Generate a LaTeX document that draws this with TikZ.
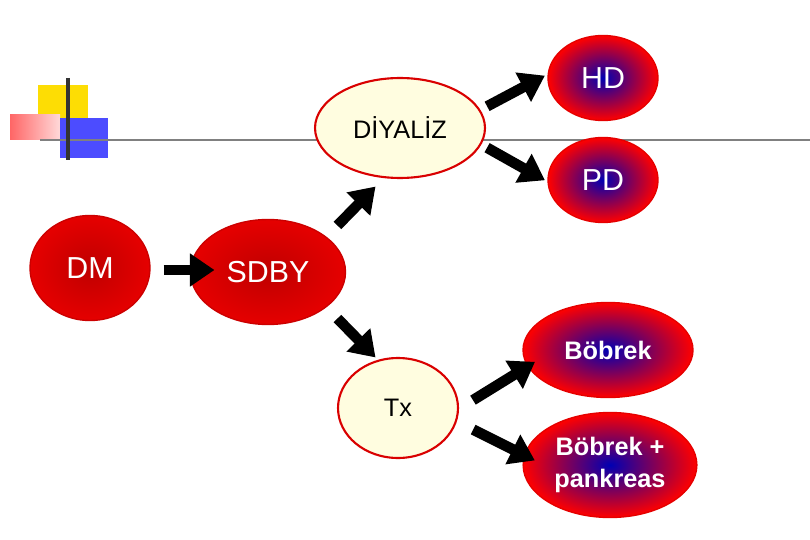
\documentclass[tikz,border=0pt]{standalone}
\usepackage{fontspec}
\setmainfont{Liberation Sans}
\usetikzlibrary{arrows.meta, shapes.geometric, positioning}

\tikzset{
  redball/.style={ellipse, draw=red!80!black, line width=0.8pt, inner color=red!75!black, outer color=red!90!black, text=white, font=\LARGE},
  blueball/.style={ellipse, draw=red!90!black, line width=0.8pt, inner color=blue!70!black, outer color=red, text=white, font=\Large\bfseries},
  paleball/.style={ellipse, draw=red!85!black, line width=1.2pt, fill=yellow!12, font=\Large},
  thick arrow/.style={-{Triangle[length=14pt,width=18pt]}, line width=6pt, black, shorten >=2pt, shorten <=2pt}
}

\begin{document}
\begin{tikzpicture}[x=0.02cm, y=-0.02cm]
  \useasboundingbox (0,0) rectangle (810,540);
  % corner decoration
  \fill[yellow!80!orange] (38,85) rectangle (88,130);
  \shade[left color=red!60, right color=red!15] (10,115) rectangle (60,140);
  \fill[blue!70] (60,118) rectangle (108,158);
  \draw[gray, line width=1.2pt] (40,140) -- (810,140);
  \draw[black!80, line width=2pt] (68,78) -- (68,160);

  \node[redball, minimum width=2.4cm, minimum height=2.1cm] (dm) at (90,268) {DM};
  \node[redball, minimum width=3.1cm, minimum height=2.1cm] (sdby) at (268,272) {SDBY};
  \node[paleball, minimum width=3.4cm, minimum height=2cm] (diyaliz) at (400,128) {DİYALİZ};
  \node[paleball, minimum width=2.4cm, minimum height=2cm] (tx) at (398,408) {Tx};
  \node[blueball, font=\LARGE, minimum width=2.2cm, minimum height=1.7cm] (hd) at (603,78) {HD};
  \node[blueball, font=\LARGE, minimum width=2.2cm, minimum height=1.7cm] (pd) at (603,180) {PD};
  \node[blueball, minimum width=3.4cm, minimum height=1.9cm] (bobrek) at (608,350) {Böbrek};
  \node[blueball, minimum width=3.4cm, minimum height=2.1cm, align=center] (bp) at (610,465) {Böbrek +\\pankreas};

  \coordinate (a1) at (160,270); \coordinate (a2) at (218,270);
  \coordinate (b1) at (335,228); \coordinate (b2) at (378,184);
  \coordinate (c1) at (335,316); \coordinate (c2) at (378,360);
  \coordinate (d1) at (484,108); \coordinate (d2) at (548,74);
  \coordinate (e1) at (484,146); \coordinate (e2) at (548,182);
  \coordinate (f1) at (470,402); \coordinate (f2) at (538,360);
  \coordinate (g1) at (470,428); \coordinate (g2) at (538,462);

  \foreach \s/\t in {a1/a2, b1/b2, c1/c2, d1/d2, e1/e2, f1/f2, g1/g2}
    \draw[thick arrow] (\s) -- (\t);
\end{tikzpicture}
\end{document}
